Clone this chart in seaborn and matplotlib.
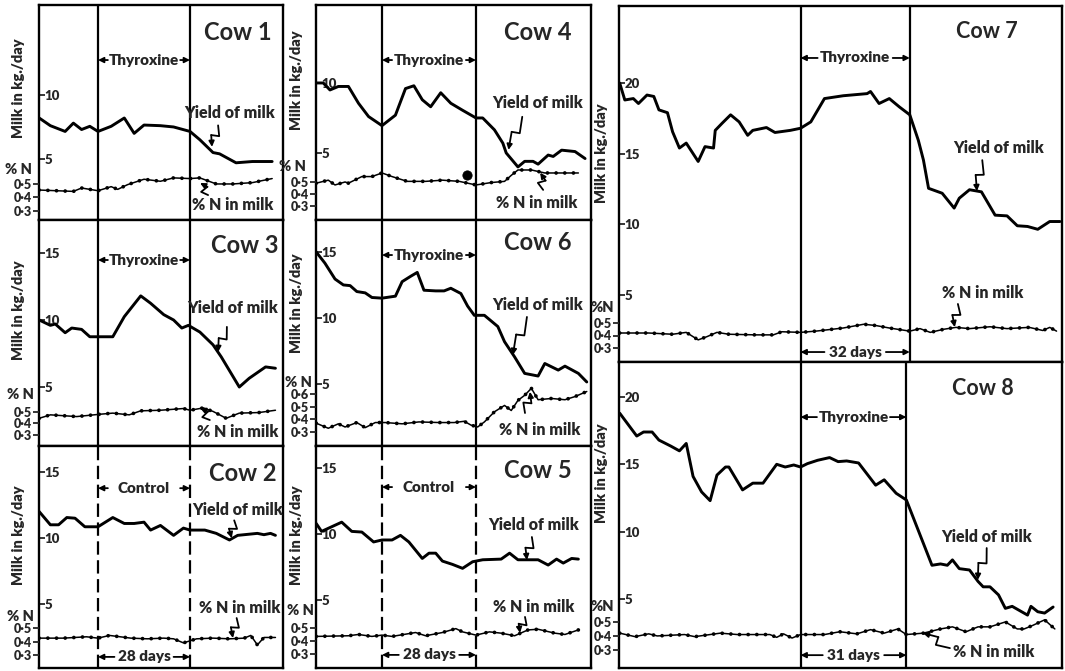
import numpy as np
import matplotlib
matplotlib.use("Agg")
import matplotlib.pyplot as plt
import seaborn as sns

# ---- data: days relative to start of treatment period ----
cow1_milk_days = [-17.9, -14.5, -10, -7.5, -5, -2.5, 0, 4, 8, 11, 14, 19, 23, 28, 31, 35, 37, 42, 47, 53]
cow1_milk = [8.2, 7.6, 7.15, 7.8, 7.3, 7.55, 7.15, 7.55, 8.2, 7.0, 7.65, 7.6, 7.5, 7.15, 6.5, 5.5, 5.4, 4.7, 4.8, 4.8]
cow1_n_days = [-17.9, -7.5, -5, 0, 4, 6, 9, 14, 19, 23, 28, 31, 36, 41, 47, 53]
cow1_n = [0.455, 0.445, 0.47, 0.45, 0.48, 0.46, 0.495, 0.535, 0.52, 0.545, 0.54, 0.545, 0.50, 0.50, 0.51, 0.54]

cow3_milk_days = [-17.9, -14.5, -13, -10, -8, -5, -2.5, 0.5, 4.5, 8, 13, 16, 20, 23, 25.5, 27.5, 31, 35, 37.5, 43, 46, 51, 54]
cow3_milk = [10.0, 9.6, 9.7, 9.05, 9.4, 9.3, 8.75, 8.75, 8.75, 10.25, 11.8, 11.25, 10.4, 10.0, 9.4, 9.6, 9.1, 8.15, 7.25, 5.0, 5.65, 6.5, 6.4]
cow3_n_days = [-17.9, -14.5, -6.5, 0.5, 4.5, 9.5, 13, 19, 26, 28, 32, 35, 39, 43, 49, 54]
cow3_n = [0.445, 0.475, 0.46, 0.48, 0.49, 0.475, 0.51, 0.515, 0.53, 0.515, 0.535, 0.505, 0.445, 0.49, 0.495, 0.515]

cow2_milk_days = [-17.9, -14.5, -12, -9.5, -7, -4, 0, 4.5, 8, 11, 14, 16, 19, 23, 26, 28, 32.5, 36, 40, 42.5, 48.5, 50.5, 52.5, 54]
cow2_milk = [12.0, 11.0, 11.0, 11.55, 11.5, 10.85, 10.85, 11.55, 11.1, 11.1, 11.2, 10.6, 10.95, 10.2, 10.75, 10.6, 10.6, 10.35, 9.85, 10.2, 10.35, 10.25, 10.35, 10.2]
cow2_n_days = [-17.9, -10.5, -3.5, 0, 3.5, 10, 15, 20, 23, 26, 30, 35, 40, 44.5, 46.5, 48.5, 50.5, 54]
cow2_n = [0.425, 0.425, 0.435, 0.425, 0.445, 0.425, 0.42, 0.425, 0.42, 0.39, 0.42, 0.425, 0.42, 0.425, 0.445, 0.375, 0.43, 0.43]

cow4_milk_days = [-19.6, -17.5, -15.5, -13, -10, -7, -4, 0, 4, 7, 9.5, 12, 14.5, 17.5, 20.5, 24, 28, 30, 33.5, 36, 37, 40.5, 42.5, 45, 46.5, 49.5, 51, 53.5, 57.5, 60.5]
cow4_milk = [10.0, 10.0, 9.5, 9.75, 9.75, 8.55, 7.6, 6.95, 7.7, 9.6, 9.8, 8.8, 8.3, 9.3, 8.55, 8.05, 7.5, 7.5, 6.65, 5.7, 5.0, 4.0, 4.4, 4.4, 4.2, 4.85, 4.75, 5.2, 5.1, 4.6]
cow4_n_days = [-19.6, -16, -14, -11, -10, -6, -3, 0, 3, 7.5, 13, 18, 23, 28, 32.5, 36.5, 38.5, 40.5, 44.5, 48.5, 53.5, 58.5]
cow4_n = [0.49, 0.515, 0.475, 0.5, 0.49, 0.545, 0.545, 0.575, 0.545, 0.505, 0.505, 0.515, 0.505, 0.475, 0.495, 0.505, 0.555, 0.6, 0.6, 0.575, 0.575, 0.575]
cow4_dot_day = [25.2]
cow4_dot_n = [0.56]

cow6_milk_days = [-19.6, -17, -14, -11.5, -9.5, -7.5, -5, -3, 0, 4, 6, 8.5, 10.5, 12.5, 16, 18.5, 20.5, 23.5, 25.5, 27.5, 30.5, 34.5, 36.5, 39.5, 42.5, 46.5, 48.5, 52.5, 54.5, 58.5, 61]
cow6_milk = [15.0, 14.15, 12.95, 12.5, 12.45, 12.0, 11.9, 11.55, 11.5, 11.65, 12.75, 13.15, 13.45, 12.1, 12.05, 12.05, 12.25, 11.85, 10.9, 10.2, 10.2, 9.35, 8.2, 7.05, 5.8, 5.6, 6.55, 6.05, 6.35, 5.8, 5.15]
cow6_n_days = [-19.6, -16, -13, -11, -7.5, -5, -2, 1, 6, 11, 17, 21.5, 24.5, 26.5, 28.5, 30.5, 33.5, 36.5, 38.5, 40.5, 42.5, 44.5, 46.5, 50.5, 54.5, 57.5, 61]
cow6_n = [0.37, 0.33, 0.365, 0.34, 0.375, 0.335, 0.375, 0.375, 0.365, 0.38, 0.375, 0.375, 0.385, 0.355, 0.34, 0.38, 0.46, 0.51, 0.47, 0.55, 0.59, 0.645, 0.555, 0.565, 0.555, 0.58, 0.62]

cow5_milk_days = [-19.6, -18, -15, -12, -9, -6, -2.5, 0, 3, 5.5, 8, 12, 14, 16, 18, 21, 24, 27, 30, 35.5, 38, 40.5, 46.5, 49.5, 52, 54, 56.5, 58.5]
cow5_milk = [10.8, 10.2, 10.55, 10.9, 10.2, 10.15, 9.4, 9.55, 9.55, 9.9, 9.4, 8.15, 8.55, 8.55, 7.95, 7.7, 7.4, 7.9, 8.05, 8.1, 8.55, 8.05, 8.05, 7.65, 8.1, 7.8, 8.15, 8.1]
cow5_n_days = [-19.6, -10, -7, -3, 0, 3, 10, 13, 18, 22, 24, 28, 32, 35.5, 39.5, 43.5, 46.5, 51.5, 54.5, 58.5]
cow5_n = [0.435, 0.44, 0.45, 0.435, 0.445, 0.435, 0.465, 0.44, 0.465, 0.495, 0.47, 0.445, 0.47, 0.46, 0.44, 0.485, 0.49, 0.46, 0.45, 0.485]

cow7_milk_days = [-53, -51.5, -49, -47.5, -45, -43, -41.5, -39, -37.5, -35.5, -33.5, -30, -28, -25.5, -25, -23, -20.5, -18,
                  -15.5, -14, -10, -7.5, -3, 0, 3, 7, 12.5, 19.5, 20.5, 23, 26, 29, 32, 34.5, 36, 37.5, 41.5, 45, 46.5,
                  49.5, 53, 57, 60.5, 63.5, 66.5, 69.5, 73, 76]
cow7_milk = [20.0, 18.8, 18.9, 18.55, 19.15, 19.05, 18.1, 17.9, 16.55, 15.4, 15.75, 14.45, 15.5, 15.4, 16.65, 17.15, 17.75,
             17.25, 16.3, 16.65, 16.85, 16.5, 16.65, 16.8, 17.25, 18.9, 19.1, 19.25, 19.4, 18.55, 18.9, 18.3, 17.75, 15.95,
             14.55, 12.55, 12.2, 11.15, 11.85, 12.45, 12.3, 10.65, 10.6, 9.9, 9.85, 9.65, 10.2, 10.2]
cow7_n_days = [-53, -44.5, -37.5, -33.5, -30, -27.5, -24.5, -21, -13, -8, -5.5, 0, 4.5, 12.5, 18.5, 22, 26, 32, 35, 38,
               42, 45.5, 49.5, 55.5, 60.5, 67, 71, 73, 75]
cow7_n = [0.42, 0.42, 0.41, 0.425, 0.365, 0.39, 0.425, 0.41, 0.405, 0.405, 0.43, 0.425, 0.435, 0.46, 0.49, 0.48, 0.46,
          0.435, 0.455, 0.425, 0.45, 0.465, 0.455, 0.47, 0.455, 0.465, 0.44, 0.465, 0.435]

cow8_milk_days = [-53, -48, -46, -43.5, -41.5, -38, -35.5, -33.5, -31.5, -29, -26.5, -24.5, -22, -21, -17, -14, -11, -7,
                  -4.5, -2, 0, 2, 5, 8.5, 11, 13.5, 17, 22, 24.5, 28, 31, 38.5, 41, 43, 44.5, 46.5, 49.5, 52, 53.5, 55.5,
                  58, 60, 62, 66.5, 67.5, 69.5, 71.5, 74]
cow8_milk = [18.8, 17.1, 17.4, 17.4, 16.8, 16.35, 16.0, 16.55, 14.1, 12.95, 12.3, 14.2, 14.8, 14.8, 13.1, 13.6, 13.6, 15.0,
             14.8, 14.95, 14.8, 15.05, 15.3, 15.5, 15.2, 15.25, 15.1, 13.45, 13.85, 12.85, 12.35, 7.5, 7.6, 7.5, 7.9, 7.25,
             7.15, 6.3, 5.9, 5.9, 5.3, 4.3, 4.45, 3.8, 4.45, 4.05, 3.95, 4.4]
cow8_n_days = [-53, -48.5, -44.5, -42, -34, -31, -23.5, -18.5, -9, -7, -5, -2.5, 0, 7, 11.5, 16.5, 20.5, 24.5, 28.5, 31,
               36, 41, 44.5, 48.5, 52, 55.5, 60, 63.5, 65.5, 68, 71.5, 74.5]
cow8_n = [0.42, 0.395, 0.415, 0.40, 0.41, 0.395, 0.42, 0.41, 0.41, 0.39, 0.415, 0.385, 0.41, 0.41, 0.43, 0.415, 0.445,
          0.42, 0.45, 0.41, 0.42, 0.45, 0.465, 0.43, 0.465, 0.465, 0.50, 0.45, 0.45, 0.475, 0.515, 0.45]

# ---- layout ----
FIG_W, FIG_H = 1065, 671
LEFT_X = (-17.96, 56.3)
MID_X = (-19.66, 62.26)
RIGHT_X = (-53.2, 76.6)

panels = [
    dict(name="Cow 1", box=(39, 5, 283, 220), xlim=LEFT_X, ylim=(0.23, 17.03), nlim=(0.233, 1.826),
         ticks=[5, 10], nticks=[0.3, 0.4, 0.5], period=28, label="Thyroxine", dashed=False,
         milk_days=cow1_milk_days, milk=cow1_milk, n_days=cow1_n_days, n=cow1_n,
         title=(0.816, 0.87), tsize=17, py=0.744, gap=3.0,
         yld=(0.78, 0.498), ybolt=((0.734, 0.44), (0.709, 0.34)),
         ntxt=(0.795, 0.07), nbolt=((0.693, 0.116), (0.66, 0.172)),
         ylab=(-0.057, 0.614), pctn=(-0.086, 0.233), pctn_txt="% N", days=None),
    dict(name="Cow 3", box=(39, 220, 283, 446), xlim=LEFT_X, ylim=(0.60, 17.46), nlim=(0.204, 2.17),
         ticks=[5, 10, 15], nticks=[0.3, 0.4, 0.5], period=28, label="Thyroxine", dashed=False,
         milk_days=cow3_milk_days, milk=cow3_milk, n_days=cow3_n_days, n=cow3_n,
         title=(0.844, 0.889), tsize=17, py=0.823, gap=3.0,
         yld=(0.795, 0.61), ybolt=((0.77, 0.527), (0.734, 0.416)),
         ntxt=(0.816, 0.062), nbolt=((0.70, 0.115), (0.66, 0.168)),
         ylab=(-0.057, 0.60), pctn=(-0.078, 0.23), pctn_txt="% N", days=None),
    dict(name="Cow 2", box=(39, 446, 283, 668), xlim=LEFT_X, ylim=(0.15, 16.97), nlim=(0.204, 1.847),
         ticks=[5, 10, 15], nticks=[0.3, 0.4, 0.5], period=28, label="Control", dashed=True,
         milk_days=cow2_milk_days, milk=cow2_milk, n_days=cow2_n_days, n=cow2_n,
         title=(0.836, 0.878), tsize=17, py=0.81, gap=3.0,
         yld=(0.812, 0.71), ybolt=((0.80, 0.665), (0.79, 0.585)),
         ntxt=(0.824, 0.27), nbolt=((0.81, 0.225), (0.795, 0.135)),
         ylab=(-0.057, 0.60), pctn=(-0.078, 0.23), pctn_txt="% N", days=("28 days", 0.05, 5.0)),
    dict(name="Cow 4", box=(316, 5, 591, 220), xlim=MID_X, ylim=(0.21, 15.57), nlim=(0.183, 1.975),
         ticks=[5, 10], nticks=[0.3, 0.4, 0.5], period=28, label="Thyroxine", dashed=False,
         milk_days=cow4_milk_days, milk=cow4_milk, n_days=cow4_n_days, n=cow4_n,
         title=(0.807, 0.87), tsize=17, py=0.744, gap=3.0,
         yld=(0.804, 0.544), ybolt=((0.75, 0.48), (0.70, 0.326)),
         ntxt=(0.804, 0.079), nbolt=((0.826, 0.14), (0.815, 0.22)),
         ylab=(-0.047, 0.65), pctn=(-0.084, 0.247), pctn_txt="% N", days=None),
    dict(name="Cow 6", box=(316, 220, 591, 446), xlim=MID_X, ylim=(0.30, 17.42), nlim=(0.19, 1.973),
         ticks=[5, 10, 15], nticks=[0.3, 0.4, 0.5, 0.6], period=28, label="Thyroxine", dashed=False,
         milk_days=cow6_milk_days, milk=cow6_milk, n_days=cow6_n_days, n=cow6_n,
         title=(0.807, 0.90), tsize=17, py=0.845, gap=3.0,
         yld=(0.807, 0.624), ybolt=((0.767, 0.571), (0.716, 0.403)),
         ntxt=(0.815, 0.07), nbolt=((0.76, 0.146), (0.778, 0.24)),
         ylab=(-0.047, 0.63), pctn=(-0.065, 0.283), pctn_txt="% N", days=None),
    dict(name="Cow 5", box=(316, 446, 591, 668), xlim=MID_X, ylim=(-0.15, 16.67), nlim=(0.192, 1.90),
         ticks=[5, 10, 15], nticks=[0.3, 0.4, 0.5], period=28, label="Control", dashed=True,
         milk_days=cow5_milk_days, milk=cow5_milk, n_days=cow5_n_days, n=cow5_n,
         title=(0.807, 0.89), tsize=17, py=0.815, gap=3.0,
         yld=(0.79, 0.644), ybolt=((0.785, 0.59), (0.767, 0.486)),
         ntxt=(0.79, 0.275), nbolt=((0.76, 0.23), (0.742, 0.158)),
         ylab=(-0.047, 0.60), pctn=(-0.058, 0.26), pctn_txt="% N", days=("28 days", 0.059, 5.0)),
    dict(name="Cow 7", box=(619, 6, 1062, 362), xlim=RIGHT_X, ylim=(0.26, 25.45), nlim=(0.188, 3.036),
         ticks=[5, 10, 15, 20], nticks=[0.3, 0.4, 0.5], period=32, label="Thyroxine", dashed=False,
         milk_days=cow7_milk_days, milk=cow7_milk, n_days=cow7_n_days, n=cow7_n,
         title=(0.83, 0.927), tsize=15.5, py=0.854, gap=5.0,
         yld=(0.856, 0.60), ybolt=((0.82, 0.567), (0.808, 0.48)),
         ntxt=(0.82, 0.194), nbolt=((0.765, 0.163), (0.758, 0.098)),
         ylab=(-0.025, 0.587), pctn=(-0.038, 0.152), pctn_txt="%N", days=("32 days", 0.028, 7.0)),
    dict(name="Cow 8", box=(619, 362, 1062, 668), xlim=RIGHT_X, ylim=(-0.13, 22.6), nlim=(0.171, 2.357),
         ticks=[5, 10, 15, 20], nticks=[0.3, 0.4, 0.5], period=31, label="Thyroxine", dashed=False,
         milk_days=cow8_milk_days, milk=cow8_milk, n_days=cow8_n_days, n=cow8_n,
         title=(0.822, 0.915), tsize=15.5, py=0.82, gap=4.8,
         yld=(0.83, 0.428), ybolt=((0.83, 0.392), (0.81, 0.288)),
         ntxt=(0.845, 0.052), nbolt=((0.747, 0.065), (0.686, 0.114)),
         ylab=(-0.025, 0.637), pctn=(-0.038, 0.2), pctn_txt="%N", days=("31 days", 0.042, 6.5)),
]

sns.set_style("white")
plt.rcParams["font.family"] = ["Lato", "DejaVu Sans"]
plt.rcParams["font.weight"] = "heavy"
plt.rcParams["axes.labelweight"] = "heavy"

fig = plt.figure(figsize=(FIG_W / 100, FIG_H / 100), dpi=100)
ARROW = dict(arrowstyle="-|>", color="black", lw=1.3, mutation_scale=8, shrinkA=0, shrinkB=0)


def bolt(ax, start, end, jog=4.0):
    # zig-zag "lightning" pointer from a label to its curve
    p0, p3 = ax.transAxes.transform([start, end])
    d = p3 - p0
    nrm = np.array([-d[1], d[0]]) / np.hypot(*d)
    p1 = p0 + 0.45 * d + nrm * jog
    p2 = p0 + 0.50 * d - nrm * jog
    pts = ax.transAxes.inverted().transform(np.array([p0, p1, p2]))
    ax.plot(pts[:, 0], pts[:, 1], transform=ax.transAxes, color="black", lw=1.3, clip_on=False)
    ax.annotate("", xy=end, xytext=tuple(pts[2]), xycoords="axes fraction",
                textcoords="axes fraction", arrowprops=ARROW)


def span_label(ax, period, y, text, gap):
    tr = ax.get_xaxis_transform()
    ax.text(period / 2, y, text, transform=tr, ha="center", va="center", fontsize=11)
    for a, b in [(gap, 0), (period - gap, period)]:
        ax.annotate("", xy=(b, y), xytext=(a, y), xycoords=tr, textcoords=tr, arrowprops=ARROW)


for p in panels:
    x0, y0, x1, y1 = p["box"]
    ax = fig.add_axes([x0 / FIG_W, 1 - y1 / FIG_H, (x1 - x0) / FIG_W, (y1 - y0) / FIG_H])
    ax2 = ax.twinx()

    sns.lineplot(x=p["milk_days"], y=p["milk"], ax=ax, color="black", lw=2.1, sort=False)
    sns.lineplot(x=p["n_days"], y=p["n"], ax=ax2, color="black", lw=1.1, sort=False)
    sns.lineplot(x=p["n_days"], y=p["n"], ax=ax2, color="black", lw=2.7,
                 linestyle=(0, (0.01, 2.3)), dash_capstyle="round", sort=False)
    if p["name"] == "Cow 4":
        sns.scatterplot(x=cow4_dot_day, y=cow4_dot_n, ax=ax2, color="black", s=45, edgecolor="black")

    ls = (0, (6, 2.5)) if p["dashed"] else "-"
    for xv in (0, p["period"]):
        ax.axvline(xv, color="black", lw=1.6, ls=ls)

    for s in ax.spines.values():
        s.set_linewidth(1.7)
        s.set_color("black")
    for s in ax2.spines.values():
        s.set_visible(False)

    ax.set_xticks([])
    ax.set_yticks(p["ticks"])
    ax.set_yticklabels([str(t) for t in p["ticks"]])
    ax.tick_params(axis="y", left=True, direction="in", length=4, width=1.3, pad=-4, labelsize=9.5)
    for lab in ax.get_yticklabels():
        lab.set_horizontalalignment("left")

    ax2.yaxis.tick_left()
    ax2.set_yticks(p["nticks"])
    ax2.set_yticklabels([f"{t:.1f}".replace(".", "·") for t in p["nticks"]])
    ax2.tick_params(axis="y", left=True, right=False, labelleft=True, labelright=False,
                    direction="out", length=4, width=1.3, pad=1, labelsize=9)

    ax.set_xlim(p["xlim"])
    ax.set_ylim(p["ylim"])
    ax2.set_ylim(p["nlim"])
    ax.set_xlabel("")
    ax2.set_ylabel("")
    ax.set_ylabel("Milk in kg./day", fontsize=10.5)
    ax.yaxis.set_label_coords(*p["ylab"])

    ax.text(*p["title"], p["name"], transform=ax.transAxes, ha="center", va="center",
            fontsize=p["tsize"], fontweight="bold")
    span_label(ax, p["period"], p["py"], p["label"], p["gap"])
    if p["days"] is not None:
        txt, dy, dgap = p["days"]
        span_label(ax, p["period"], dy, txt, dgap)

    ax.text(*p["yld"], "Yield of milk", transform=ax.transAxes, ha="center", va="center", fontsize=11.5)
    bolt(ax, *p["ybolt"])
    ax.text(*p["ntxt"], "% N in milk", transform=ax.transAxes, ha="center", va="center", fontsize=11.5)
    bolt(ax, *p["nbolt"])
    ax.text(*p["pctn"], p["pctn_txt"], transform=ax.transAxes, ha="center", va="center", fontsize=10.5)

fig.savefig("out.png", dpi=100, facecolor="white")
